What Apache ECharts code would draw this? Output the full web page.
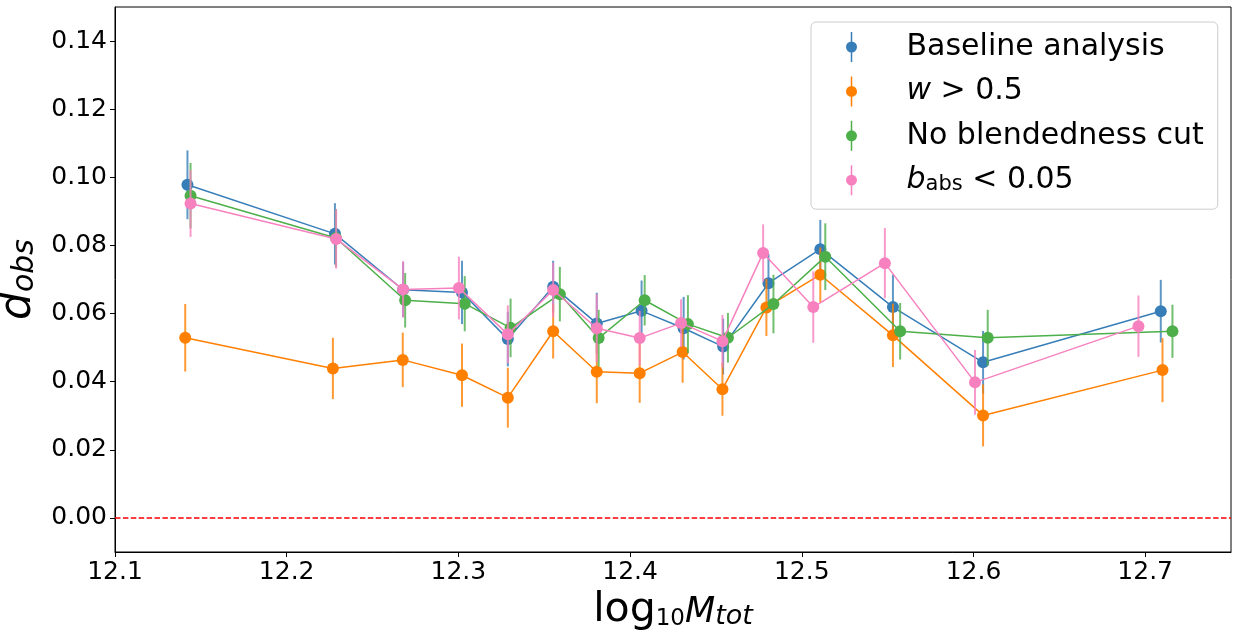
<!DOCTYPE html>
<html>
<head>
<meta charset="utf-8" />
<title>d_obs vs log10 M_tot</title>
<script src="https://cdn.jsdelivr.net/npm/echarts@6.0.0/dist/echarts.min.js"></script>
<style>
	html, body { margin: 0; padding: 0; background: #fff; }
	#main { width: 1238px; height: 637px; }
</style>
</head>
<body>
<div id="main"></div>
<script>
// tick labels
var xTicks = [12.1, 12.2, 12.3, 12.4, 12.5, 12.6, 12.7];
var yTicks = [0, 0.02, 0.04, 0.06, 0.08, 0.10, 0.12, 0.14];

// legend names
var names = ['Baseline analysis', 'w > 0.5', 'No blendedness cut', 'b_abs < 0.05'];
var colors = ['#377eb8', '#ff7f00', '#4daf4a', '#f781bf'];

// Baseline analysis
var baseX = [12.1422, 12.2281, 12.2678, 12.3021, 12.3288, 12.3552, 12.3806, 12.4067, 12.4312, 12.4542, 12.4806, 12.5108, 12.5531, 12.6056, 12.7091];
var baseY = [0.0978, 0.0834, 0.0670, 0.0662, 0.0525, 0.0679, 0.0571, 0.0608, 0.0557, 0.0503, 0.0689, 0.0789, 0.0619, 0.0457, 0.0607];
var baseErr = [0.0101, 0.0090, 0.0080, 0.0093, 0.0080, 0.0076, 0.0090, 0.0089, 0.0092, 0.0082, 0.0086, 0.0086, 0.0095, 0.0092, 0.0092];

// w > 0.5
var wX = [12.1409, 12.2269, 12.2676, 12.3021, 12.3288, 12.3552, 12.3806, 12.4056, 12.4306, 12.4538, 12.4794, 12.5108, 12.5531, 12.6056, 12.7101];
var wY = [0.0529, 0.0439, 0.0464, 0.0419, 0.0353, 0.0548, 0.0429, 0.0425, 0.0487, 0.0378, 0.0618, 0.0714, 0.0536, 0.0301, 0.0434];
var wErr = [0.0099, 0.0090, 0.0080, 0.0093, 0.0088, 0.0080, 0.0092, 0.0087, 0.0090, 0.0078, 0.0084, 0.0080, 0.0093, 0.0091, 0.0094];

// No blendedness cut
var noCutX = [12.1440, 12.2287, 12.2690, 12.3037, 12.3304, 12.3591, 12.3817, 12.4085, 12.4337, 12.4570, 12.4835, 12.5137, 12.5573, 12.6083, 12.7159];
var noCutY = [0.0946, 0.0822, 0.0639, 0.0629, 0.0558, 0.0657, 0.0528, 0.0639, 0.0569, 0.0529, 0.0628, 0.0767, 0.0548, 0.0529, 0.0548];
var noCutErr = [0.0096, 0.0085, 0.0080, 0.0081, 0.0086, 0.0080, 0.0083, 0.0074, 0.0085, 0.0073, 0.0086, 0.0098, 0.0083, 0.0082, 0.0078];

// b_abs < 0.05
var bAbsX = [12.1440, 12.2288, 12.2678, 12.3003, 12.3288, 12.3552, 12.3806, 12.4056, 12.4297, 12.4538, 12.4775, 12.5067, 12.5484, 12.6009, 12.6961];
var bAbsY = [0.0923, 0.0819, 0.0671, 0.0675, 0.0539, 0.0669, 0.0557, 0.0528, 0.0572, 0.0519, 0.0778, 0.0619, 0.0748, 0.0398, 0.0563];
var bAbsErr = [0.0098, 0.0087, 0.0083, 0.0092, 0.0085, 0.0080, 0.0100, 0.0080, 0.0070, 0.0077, 0.0084, 0.0105, 0.0103, 0.0095, 0.0090];

var groups = [
	[baseX, baseY, baseErr],
	[wX, wY, wErr],
	[noCutX, noCutY, noCutErr],
	[bAbsX, bAbsY, bAbsErr]
];

var font = 'DejaVu Sans';
// errorbar legend icon: vertical bar with a dot
var errIcon = 'path://M5.25,0h1.5v30h-1.5z M0.5,15 A5.5,5.5 0 1,1 11.5,15 A5.5,5.5 0 1,1 0.5,15 Z';

var chart = echarts.init(document.getElementById('main'));

function errorBarItem(params, api) {
	var x = api.value(0), y = api.value(1), e = api.value(2);
	var top = api.coord([x, y + e]);
	var bot = api.coord([x, y - e]);
	return {
		type: 'line',
		shape: { x1: top[0], y1: top[1], x2: bot[0], y2: bot[1] },
		style: { stroke: api.visual('color'), lineWidth: 2, opacity: 0.8 }
	};
}

var series = [];
groups.forEach(function(g, i) {
	var pts = [], bars = [];
	for (var k = 0; k < g[0].length; k++) {
		pts.push([g[0][k], g[1][k]]);
		bars.push([g[0][k], g[1][k], g[2][k]]);
	}
	series.push({
		name: names[i],
		type: 'custom',
		renderItem: errorBarItem,
		encode: { x: 0, y: 1 },
		itemStyle: { color: colors[i] },
		data: bars,
		z: 2 + i * 2,
		silent: true
	});
	var s = {
		name: names[i],
		type: 'line',
		data: pts,
		symbol: 'circle',
		symbolSize: 12,
		itemStyle: { color: colors[i] },
		lineStyle: { color: colors[i], width: 1.5 },
		emphasis: { disabled: true },
		z: 3 + i * 2
	};
	if (i === 0) {
		// dashed zero line
		s.markLine = {
			silent: true,
			symbol: 'none',
			label: { show: false },
			lineStyle: { color: '#ff0000', type: [5.5, 2.4], width: 1.5 },
			data: [{ yAxis: 0 }]
		};
	}
	series.push(s);
});

chart.setOption({
	animation: false,
	textStyle: { fontFamily: font },
	grid: {
		left: 115, right: 7, top: 7, bottom: 85,
		outerBoundsMode: 'none',
		containLabel: false,
		show: true, borderColor: '#000', borderWidth: 1
	},
	legend: {
		orient: 'vertical',
		left: 811, top: 22,
		padding: [10, 14, 14, 35],
		itemWidth: 12, itemHeight: 30, itemGap: 14.4,
		backgroundColor: 'rgba(255,255,255,0.8)',
		borderColor: '#cccccc', borderWidth: 1, borderRadius: 5,
		data: names.map(function(n) { return { name: n, icon: errIcon }; }),
		formatter: function(name) {
			if (name === 'w > 0.5') return '{i|w} > 0.5';
			if (name === 'b_abs < 0.05') return '{i|b}{sub|abs} < 0.05';
			return name;
		},
		textStyle: {
			fontFamily: font, fontSize: 30, color: '#000', lineHeight: 30,
			padding: [0, 0, 0, 44],
			rich: {
				i: { fontFamily: font, fontSize: 30, fontStyle: 'italic', lineHeight: 30, verticalAlign: 'bottom' },
				sub: { fontFamily: font, fontSize: 21, lineHeight: 18, verticalAlign: 'bottom' }
			}
		}
	},
	xAxis: {
		type: 'value',
		min: 12.1, max: 12.75, interval: 0.1,
		splitLine: { show: false },
		axisLine: { show: true, onZero: false, lineStyle: { color: '#000', width: 1 } },
		axisTick: { show: true, length: 5, lineStyle: { color: '#000' }, customValues: xTicks },
		axisLabel: {
			fontFamily: font, fontSize: 25, color: '#000', margin: 8,
			customValues: xTicks,
			formatter: function(v) { return v.toFixed(1); }
		},
		name: '{a|log}{b|10}{c|M}{d|tot}',
		nameLocation: 'middle',
		nameGap: 28,
		nameTextStyle: {
			color: '#000',
			rich: {
				a: { fontFamily: font, fontSize: 41, lineHeight: 48, verticalAlign: 'bottom', color: '#000' },
				b: { fontFamily: font, fontSize: 23, lineHeight: 23, verticalAlign: 'bottom', color: '#000' },
				c: { fontFamily: font, fontSize: 35, fontStyle: 'italic', lineHeight: 34, verticalAlign: 'bottom', color: '#000' },
				d: { fontFamily: font, fontSize: 27, fontStyle: 'italic', lineHeight: 24, verticalAlign: 'bottom', color: '#000' }
			}
		}
	},
	yAxis: {
		type: 'value',
		min: -0.01, max: 0.15,
		splitLine: { show: false },
		axisLine: { show: true, onZero: false, lineStyle: { color: '#000', width: 1 } },
		axisTick: { show: true, length: 5, lineStyle: { color: '#000' }, customValues: yTicks },
		axisLabel: {
			fontFamily: font, fontSize: 25, color: '#000', margin: 8,
			customValues: yTicks,
			formatter: function(v) { return v.toFixed(2); }
		},
		name: '{d|d}{s|obs}',
		nameLocation: 'middle',
		nameRotate: 90,
		nameGap: 61,
		nameTextStyle: {
			color: '#000',
			rich: {
				d: { fontFamily: font, fontSize: 44, fontStyle: 'italic', lineHeight: 52, verticalAlign: 'bottom', color: '#000' },
				s: { fontFamily: font, fontSize: 30, fontStyle: 'italic', lineHeight: 38, verticalAlign: 'bottom', color: '#000' }
			}
		}
	},
	series: series
});

window.onresize = function() {
	chart.resize();
};
</script>
</body>
</html>
